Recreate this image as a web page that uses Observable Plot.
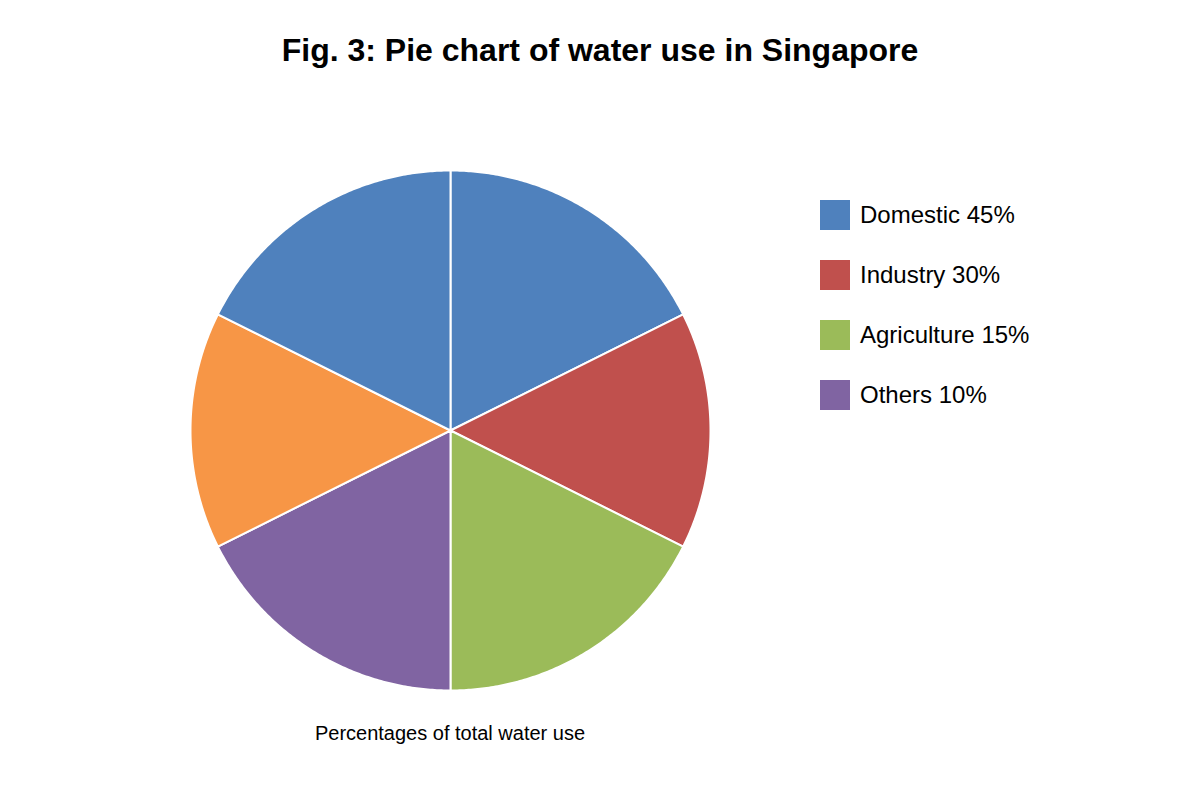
<!DOCTYPE html>
<html>
<head>
<meta charset="utf-8">
<script src="https://cdn.jsdelivr.net/npm/d3@7"></script>
<script src="https://cdn.jsdelivr.net/npm/@observablehq/plot@0.6"></script>
<style>
  html, body { margin: 0; padding: 0; background: #fff; }
  body { width: 1200px; height: 800px; position: relative; font-family: "Liberation Sans", Arial, sans-serif; }
  #title { height: 100px; line-height: 100px; text-align: center; font-size: 32px; font-weight: bold; color: #000; margin: 0; }
  #chart svg { display: block; }
  #caption { position: absolute; left: 250px; width: 400px; top: 722px; text-align: center; font-size: 20px; color: #000; }
  #legend { position: absolute; left: 820px; top: 200px; }
  .item { display: flex; align-items: center; height: 30px; margin-bottom: 30px; font-size: 24px; color: #000; }
  .sw { width: 30px; height: 30px; margin-right: 10px; }
</style>
</head>
<body>
<h1 id="title">Fig. 3: Pie chart of water use in Singapore</h1>
<div id="chart"></div>
<div id="legend"></div>
<div id="caption">Percentages of total water use</div>
<script>
// Slices as drawn, clockwise from 12 o'clock (share of the circle, %)
const sliceCategories = ["Domestic", "Industry", "Agriculture", "Others", "Unlabelled", "Domestic"];
const sliceShares = [17.6, 14.7, 17.6, 17.6, 14.7, 17.6];

// Legend
const legendCategories = ["Domestic", "Industry", "Agriculture", "Others"];
const legendLabels = ["Domestic 45%", "Industry 30%", "Agriculture 15%", "Others 10%"];

const colorDomain = ["Domestic", "Industry", "Agriculture", "Others", "Unlabelled"];
const colorRange = ["#4F81BD", "#C0504D", "#9BBB59", "#8064A2", "#F79646"];

const arcs = d3.pie().sort(null).value(d => d)(sliceShares);
const points = [];
arcs.forEach((a, i) => {
  const cat = sliceCategories[i];
  points.push({slice: i, cat, x: 0, y: 0});
  const n = Math.max(2, Math.ceil((a.endAngle - a.startAngle) / (Math.PI / 360)));
  for (let k = 0; k <= n; k++) {
    const t = a.startAngle + (a.endAngle - a.startAngle) * k / n;
    points.push({slice: i, cat, x: Math.sin(t), y: Math.cos(t)});
  }
  points.push({slice: i, cat, x: 0, y: 0});
});

const plot = Plot.plot({
  width: 1200,
  height: 600,
  margin: 0,
  x: {domain: [-1, 1], range: [190, 710], axis: null},
  y: {domain: [-1, 1], range: [590, 70], axis: null},
  color: {domain: colorDomain, range: colorRange},
  marks: [
    Plot.line(points, {x: "x", y: "y", z: "slice", fill: "cat", stroke: "white", strokeWidth: 2, strokeLinejoin: "round", curve: "linear"})
  ]
});
document.getElementById("chart").appendChild(plot);

const legend = document.getElementById("legend");
legendCategories.forEach((c, i) => {
  const item = document.createElement("div");
  item.className = "item";
  const sw = document.createElement("div");
  sw.className = "sw";
  sw.style.background = colorRange[colorDomain.indexOf(c)];
  const tx = document.createElement("span");
  tx.textContent = legendLabels[i];
  item.appendChild(sw);
  item.appendChild(tx);
  legend.appendChild(item);
});
</script>
</body>
</html>
